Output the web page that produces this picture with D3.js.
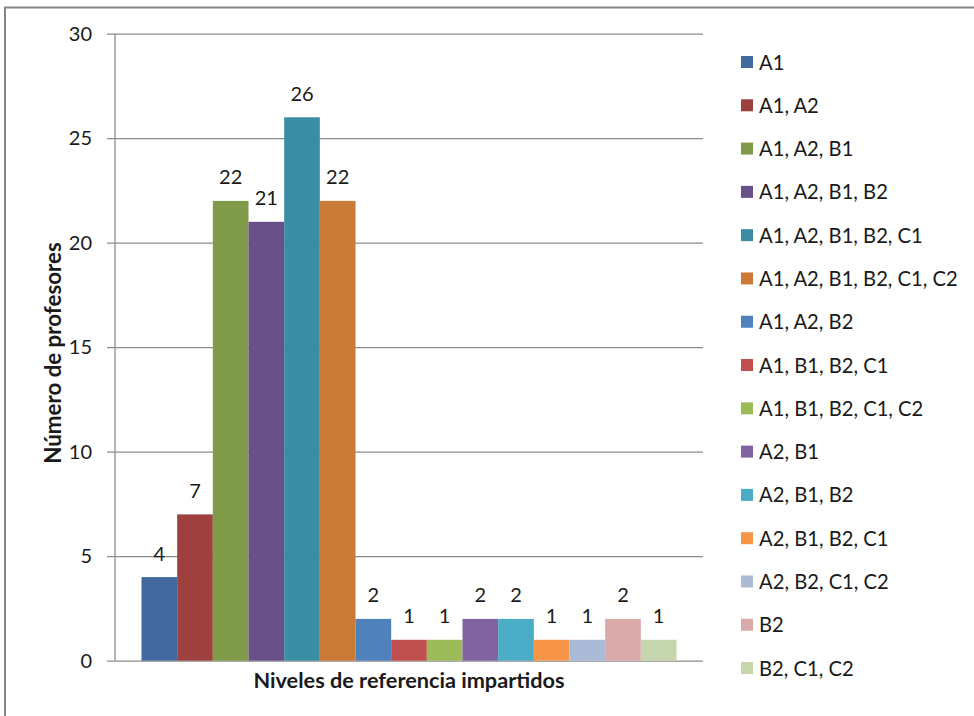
<!DOCTYPE html>
<html>
<head>
<meta charset="utf-8">
<script src="https://cdn.jsdelivr.net/npm/d3@7"></script>
<style>
  html, body { margin: 0; padding: 0; background: #fff; }
  svg { display: block; }
  text { font-family: Lato, "Open Sans", sans-serif; fill: #1a1a1a; }
</style>
</head>
<body>
<svg id="chart" width="974" height="716"></svg>
<script>
// Reference levels taught, and number of teachers for each combination
const levels = [
  "A1", "A1, A2", "A1, A2, B1", "A1, A2, B1, B2", "A1, A2, B1, B2, C1",
  "A1, A2, B1, B2, C1, C2", "A1, A2, B2", "A1, B1, B2, C1", "A1, B1, B2, C1, C2",
  "A2, B1", "A2, B1, B2", "A2, B1, B2, C1", "A2, B2, C1, C2", "B2", "B2, C1, C2"
];
const teachers = [4, 7, 22, 21, 26, 22, 2, 1, 1, 2, 2, 1, 1, 2, 1];
const colors = [
  "#41699d", "#9e403e", "#7f9a48", "#6a5088", "#3a8da3",
  "#cc7a37", "#4f81bd", "#c0504d", "#9bbb59", "#8064a2",
  "#4bacc6", "#f79646", "#aabad7", "#d9aaa9", "#c6d6ac"
];
const yTicks = [0, 5, 10, 15, 20, 25, 30];
const yTitle = "Número de profesores";
const xTitle = "Niveles de referencia impartidos";

const svg = d3.select("#chart");

// Chart frame
svg.append("rect")
  .attr("x", 5).attr("y", 7.5)
  .attr("width", 1000).attr("height", 800)
  .attr("fill", "none").attr("stroke", "#868686").attr("stroke-width", 2);

const plot = { left: 115, right: 703, top: 33.7, bottom: 660.7 };
const inset = 26.5;

const y = d3.scaleLinear().domain([0, 30]).range([plot.bottom, plot.top]);
const x = d3.scaleBand()
  .domain(levels)
  .range([plot.left + inset, plot.right - inset])
  .paddingInner(0).paddingOuter(0);

// Horizontal gridlines with outward tick marks
const yAxis = d3.axisLeft(y)
  .tickValues(yTicks)
  .tickSize(-(plot.right - plot.left))
  .tickPadding(23)
  .tickFormat(d3.format("d"));

const gy = svg.append("g")
  .attr("transform", `translate(${plot.left},0)`)
  .call(yAxis);
gy.select(".domain").remove();
gy.selectAll(".tick line")
  .attr("x1", -8)
  .attr("stroke", "#8c8c8c").attr("stroke-width", 1.3);
gy.selectAll(".tick text")
  .attr("font-size", 20)
  .attr("font-family", "Lato, sans-serif")
  .attr("fill", "#1a1a1a");

// Vertical axis line
svg.append("line")
  .attr("x1", plot.left).attr("x2", plot.left)
  .attr("y1", plot.top).attr("y2", plot.bottom)
  .attr("stroke", "#8c8c8c").attr("stroke-width", 1.3);

// Bars
svg.append("g").selectAll("rect")
  .data(levels)
  .join("rect")
  .attr("x", d => x(d))
  .attr("y", (d, i) => y(teachers[i]))
  .attr("width", x.bandwidth())
  .attr("height", (d, i) => y(0) - y(teachers[i]))
  .attr("fill", (d, i) => colors[i]);

// Value labels
svg.append("g").selectAll("text")
  .data(levels)
  .join("text")
  .attr("x", d => x(d) + x.bandwidth() / 2)
  .attr("y", (d, i) => y(teachers[i]) - 16.5)
  .attr("text-anchor", "middle")
  .attr("font-size", 20)
  .text((d, i) => teachers[i]);

// Axis titles
svg.append("text")
  .attr("transform", "translate(61,353) rotate(-90)")
  .attr("text-anchor", "middle")
  .attr("font-size", 22.3)
  .attr("font-weight", "bold")
  .text(yTitle);

svg.append("text")
  .attr("x", (plot.left + plot.right) / 2)
  .attr("y", 687.5)
  .attr("text-anchor", "middle")
  .attr("font-size", 21.7)
  .attr("font-weight", "bold")
  .text(xTitle);

// Legend
const legend = svg.append("g");
const legendTop = 62, legendStep = 43.29;
const items = legend.selectAll("g")
  .data(levels)
  .join("g")
  .attr("transform", (d, i) => `translate(741,${legendTop + i * legendStep})`);
items.append("rect")
  .attr("x", 0).attr("y", -6)
  .attr("width", 12).attr("height", 12)
  .attr("fill", (d, i) => colors[i]);
items.append("text")
  .attr("x", 18).attr("y", 7.5)
  .attr("font-size", 20.2)
  .text(d => d);
</script>
</body>
</html>
